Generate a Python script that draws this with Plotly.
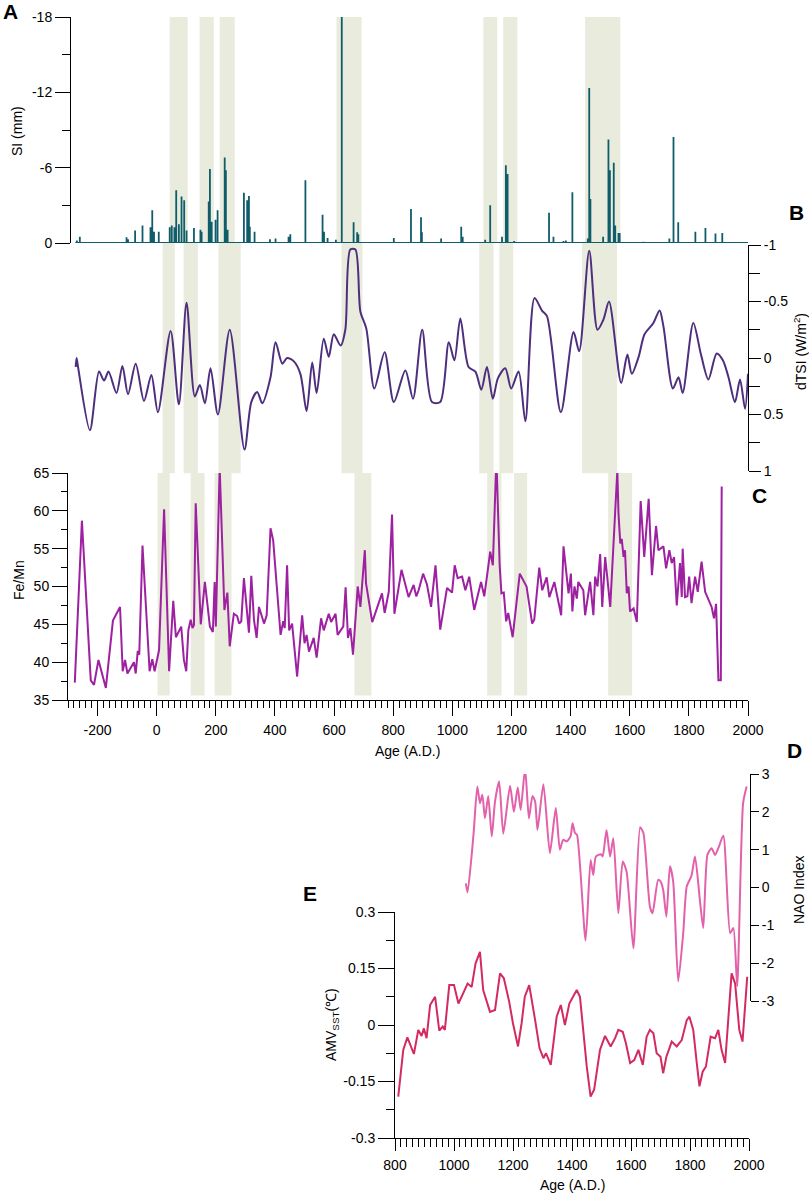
import plotly.graph_objects as go

W, H = 809, 1195
FONT = "Liberation Sans, Arial, sans-serif"

# ---- panel A: SI (mm), event years and depths
si_start, si_end = -275, 2000
si_years = [-270, -260, -102, -97, -73, -48, -21, -15, -9, 7, 44, 51, 60, 66, 75, 84, 93, 101,
            126, 148, 152, 176, 180, 186, 199, 206, 230, 234, 240, 295, 306, 312, 315, 331,
            383, 402, 446, 452, 503, 561, 566, 578, 606, 626, 666, 678, 682, 802, 860, 894,
            897, 962, 1030, 1035, 1111, 1128, 1168, 1181, 1187, 1209, 1327, 1342, 1376, 1384,
            1406, 1458, 1463, 1467, 1510, 1528, 1533, 1546, 1551, 1562, 1566, 1646, 1734,
            1748, 1764, 1822, 1856, 1890, 1913]
si_depth = [-0.2, -0.5, -0.45, -0.3, -1.0, -1.4, -1.25, -2.6, -0.9, -0.9, -1.25, -1.4, -1.25,
            -4.2, -1.5, -3.7, -3.4, -1.0, -1.2, -1.05, -0.9, -3.3, -5.9, -1.7, -1.85, -2.6,
            -6.8, -5.8, -1.05, -4.0, -3.4, -3.75, -1.3, -0.9, -0.3, -0.35, -0.5, -0.7, -5.0,
            -2.25, -0.9, -0.4, -0.25, -18.0, -1.65, -0.85, -0.7, -0.4, -2.7, -2.05, -0.85,
            -0.35, -1.3, -0.5, -0.25, -3.0, -0.5, -6.2, -5.5, -0.15, -2.4, -0.5, -0.15, -0.2,
            -4.05, -0.35, -12.35, -3.5, -0.5, -8.25, -5.8, -6.4, -1.4, -0.8, -0.8, -0.1,
            -0.35, -8.45, -1.65, -0.9, -1.2, -0.75, -0.8]

# ---- panel B: dTSI (W/m2)
tsi_years = [-274, -271, -266, -226, -195, -178, -163, -136, -116, -97, -71, -43, -18, 4, 47,
             75, 101, 129, 146, 163, 182, 207, 247, 297, 320, 340, 357, 385, 402, 425, 441,
             464, 486, 507, 526, 541, 565, 582, 599, 622, 638, 655, 672, 689, 709, 736, 771,
             802, 841, 867, 898, 931, 959, 988, 1007, 1027, 1055, 1078, 1098, 1117, 1137,
             1154, 1179, 1199, 1224, 1247, 1278, 1303, 1320, 1367, 1410, 1429, 1463, 1491,
             1511, 1530, 1571, 1592, 1607, 1630, 1650, 1680, 1701, 1714, 1746, 1765, 1779,
             1815, 1841, 1866, 1894, 1915, 1934, 1956, 1973, 1990, 2000]
tsi_vals = [0.08, 0.0, 0.08, 0.64, 0.12, 0.2, 0.12, 0.31, 0.07, 0.32, 0.05, 0.38, 0.15, 0.48,
            -0.24, 0.41, -0.49, 0.34, 0.24, 0.40, 0.09, 0.50, -0.25, 0.81, 0.39, 0.30, 0.40,
            0.17, -0.14, 0.05, 0.0, 0.03, 0.14, 0.47, 0.04, 0.31, -0.17, -0.01, -0.21, -0.11,
            -0.25, -0.96, -0.96, -0.41, -0.26, 0.27, -0.05, 0.39, 0.11, 0.36, -0.25, 0.39,
            0.39, -0.14, 0.02, -0.35, 0.08, 0.12, 0.28, 0.08, 0.36, 0.18, 0.09, 0.27, 0.12,
            0.56, -0.53, -0.42, -0.37, 0.48, -0.23, -0.06, -0.95, -0.25, -0.34, -0.50, 0.22,
            -0.03, 0.14, -0.01, -0.21, -0.31, -0.42, -0.28, 0.27, 0.17, 0.31, -0.31, -0.03,
            0.19, -0.04, 0.02, 0.17, 0.39, 0.19, 0.45, 0.14]

# ---- panel C: Fe/Mn
femn_years = [-277, -253, -223, -212, -197, -172, -148, -124, -115, -107, -99, -77, -71, -64,
              -59, -48, -24, -15, -7, 8, 25, 42, 56, 65, 83, 92, 100, 107, 115, 121, 126, 132,
              149, 163, 180, 190, 196, 200, 213, 229, 239, 247, 261, 272, 279, 286, 295, 312,
              320, 329, 338, 346, 363, 372, 385, 394, 419, 428, 433, 441, 448, 458, 475, 492,
              500, 507, 515, 531, 541, 556, 565, 582, 590, 605, 612, 631, 639, 647, 655, 664,
              680, 689, 704, 708, 729, 762, 771, 785, 796, 804, 828, 852, 869, 878, 886, 901,
              914, 928, 943, 959, 982, 999, 1008, 1018, 1033, 1044, 1057, 1074, 1097, 1108,
              1120, 1128, 1137, 1149, 1160, 1166, 1174, 1182, 1189, 1204, 1228, 1251, 1270,
              1277, 1294, 1304, 1319, 1328, 1345, 1368, 1376, 1393, 1401, 1406, 1413, 1421,
              1426, 1443, 1449, 1466, 1477, 1483, 1491, 1500, 1507, 1517, 1534, 1558, 1562,
              1568, 1573, 1579, 1584, 1590, 1596, 1601, 1613, 1624, 1637, 1649, 1664, 1675,
              1689, 1697, 1714, 1723, 1734, 1742, 1750, 1759, 1770, 1776, 1779, 1787, 1795,
              1801, 1809, 1821, 1830, 1843, 1855, 1866, 1877, 1885, 1892, 1900, 1908, 1911]
femn_vals = [37.3, 58.7, 37.6, 37.0, 40.3, 36.6, 45.5, 47.3, 38.8, 40.3, 38.5, 40.0, 38.5, 41.5,
             41.0, 55.4, 38.8, 40.4, 38.8, 41.6, 60.2, 38.8, 48.1, 43.3, 44.7, 40.3, 38.8, 44.2,
             45.6, 44.5, 44.9, 61.0, 45.0, 50.6, 44.7, 44.0, 50.6, 44.7, 65.8, 46.9, 49.2, 42.1,
             46.4, 46.1, 45.1, 45.4, 51.1, 43.9, 51.4, 45.6, 43.2, 47.3, 45.1, 46.2, 57.7, 56.1,
             43.6, 45.4, 44.5, 52.8, 44.2, 45.1, 38.1, 46.2, 42.5, 43.6, 41.4, 43.2, 40.6, 45.8,
             44.2, 46.4, 45.3, 46.4, 43.6, 44.7, 49.9, 43.2, 44.5, 41.0, 50.0, 47.3, 54.8, 50.4,
             45.3, 49.1, 46.5, 49.3, 59.5, 46.4, 52.2, 48.6, 50.2, 48.7, 49.5, 51.7, 50.3, 47.3,
             52.8, 44.3, 49.8, 49.2, 52.8, 51.1, 51.3, 49.5, 51.3, 46.9, 50.6, 48.7, 52.2, 54.6,
             52.8, 67.0, 52.8, 49.1, 49.2, 45.4, 46.5, 43.3, 51.7, 50.0, 45.1, 45.6, 52.5, 49.5,
             51.2, 48.6, 50.6, 46.2, 55.3, 49.1, 51.7, 46.7, 50.0, 48.4, 50.6, 49.5, 46.2, 50.6,
             46.2, 51.3, 50.0, 54.3, 47.3, 53.9, 47.3, 65.3, 59.6, 55.7, 56.3, 53.9, 54.8, 49.1,
             50.0, 46.7, 47.1, 45.3, 61.3, 53.9, 61.6, 51.5, 58.0, 54.8, 55.3, 52.4, 54.8, 53.1,
             53.9, 47.5, 53.1, 48.6, 55.0, 48.6, 48.7, 51.3, 47.8, 51.3, 49.3, 53.3, 49.3, 48.2,
             47.3, 45.8, 47.7, 37.6, 37.6, 63.2]

# ---- panel D: NAO index
nao_years = [1040, 1046, 1066, 1079, 1088, 1096, 1105, 1116, 1128, 1139, 1153, 1167, 1190,
             1203, 1216, 1226, 1241, 1254, 1266, 1275, 1283, 1303, 1325, 1345, 1359, 1370,
             1382, 1395, 1402, 1410, 1417, 1446, 1463, 1472, 1481, 1498, 1504, 1517, 1529,
             1540, 1557, 1572, 1585, 1608, 1631, 1642, 1664, 1673, 1692, 1700, 1709, 1720,
             1732, 1743, 1760, 1777, 1789, 1805, 1817, 1834, 1845, 1859, 1873, 1885, 1896,
             1913, 1936, 1947, 1960, 1980, 1992]
nao_vals = [0.11, -0.13, 1.39, 2.67, 2.23, 2.45, 1.83, 2.42, 1.35, 2.27, 2.8, 1.42, 2.69, 2.0,
            2.64, 2.05, 3.15, 1.83, 2.42, 2.27, 1.52, 2.73, 0.91, 2.10, 1.0, 1.26, 1.22, 1.35,
            1.70, 1.44, 1.39, -1.40, 0.73, 0.33, 0.82, 0.88, 0.82, 1.52, 0.82, 1.30, -0.68,
            0.69, 0.42, -1.60, 1.59, 1.44, -0.50, -0.68, 0.2, 0.16, -0.06, -0.77, 0.56, 0.16,
            -2.48, -1.21, 0.03, 0.31, 0.82, -0.37, -1.07, 0.86, 1.04, 0.86, 1.04, 1.37, -1.21,
            -1.07, -2.61, 2.23, 2.67]

# ---- panel E: AMV SST (deg C)
amv_years = [811, 828, 842, 853, 864, 879, 890, 898, 907, 919, 936, 950, 962, 969, 984, 1000,
             1015, 1031, 1046, 1060, 1073, 1088, 1099, 1122, 1139, 1156, 1169, 1187, 1200,
             1217, 1229, 1240, 1255, 1275, 1290, 1303, 1312, 1328, 1348, 1362, 1376, 1391,
             1416, 1427, 1450, 1463, 1475, 1495, 1512, 1531, 1546, 1557, 1572, 1583, 1597,
             1611, 1625, 1640, 1653, 1664, 1676, 1687, 1700, 1709, 1720, 1738, 1755, 1772,
             1789, 1798, 1811, 1823, 1832, 1843, 1854, 1870, 1885, 1896, 1907, 1919, 1936,
             1941, 1953, 1967, 1978, 1994]
amv_vals = [-0.19, -0.066, -0.033, -0.057, -0.077, -0.013, -0.029, -0.009, -0.035, 0.053, 0.075,
            -0.015, -0.004, -0.013, 0.106, 0.106, 0.057, 0.084, 0.110, 0.101, 0.163, 0.194,
            0.093, 0.035, 0.040, 0.137, 0.124, 0.062, 0.004, -0.057, 0.004, 0.075, 0.106,
            0.013, -0.062, -0.088, -0.075, -0.106, 0.022, 0.053, 0.0, 0.057, 0.093, 0.075,
            -0.110, -0.190, -0.172, -0.066, -0.029, -0.057, -0.035, -0.013, -0.018, -0.049,
            -0.101, -0.093, -0.066, -0.106, -0.031, -0.013, -0.022, -0.075, -0.084, -0.128,
            -0.084, -0.044, -0.057, -0.040, 0.013, 0.022, -0.013, -0.101, -0.163, -0.124,
            -0.110, -0.031, -0.035, -0.013, -0.066, -0.101, 0.093, 0.137, 0.110, -0.013,
            -0.044, 0.128]

# shaded intervals (A.D.) for panels A, B, C
bands_a = [(44, 105), (145, 193), (213, 264), (608, 693), (1105, 1152), (1172, 1220), (1449, 1568)]
bands_b = [(20, 61), (91, 139), (209, 284), (625, 696), (1091, 1139), (1159, 1206), (1439, 1557)]
bands_c = [(3, 44), (115, 162), (196, 253), (669, 726), (1118, 1166), (1209, 1253), (1527, 1608)]

# tick labels (hyphen minus as in the original)
age_ticks = [-200, 0, 200, 400, 600, 800, 1000, 1200, 1400, 1600, 1800, 2000]
si_ticks = [-18, -12, -6, 0]
tsi_ticks = [-1, -0.5, 0, 0.5, 1]
nao_ticks = [-3, -2, -1, 0, 1, 2, 3]
amv_ticks = [-0.3, -0.15, 0, 0.15, 0.3]
age2_ticks = [800, 1000, 1200, 1400, 1600, 1800, 2000]

SI_COLOR = "#0f5d6b"
TSI_COLOR = "#4e2f7e"
FEMN_COLOR = "#9d21a0"
NAO_COLOR = "#e360aa"
AMV_COLOR = "#d32a60"
BAND_COLOR = "#e9ebdd"


def fx(px):
    return px / W


def fy(py):
    return 1 - py / H


def labels(vals):
    return [f"{v:g}" for v in vals]


# stick path for the SI events, zero line joining them
si_x, si_y = [si_start], [0]
for yr, d in zip(si_years, si_depth):
    si_x += [yr, yr, yr]
    si_y += [0, d, 0]
si_x.append(si_end)
si_y.append(0)

fig = go.Figure()
fig.add_trace(go.Scatter(x=si_x, y=si_y, xaxis="x", yaxis="y", mode="lines",
                         line=dict(color=SI_COLOR, width=1.8)))
fig.add_trace(go.Scatter(x=tsi_years, y=tsi_vals, xaxis="x", yaxis="y2", mode="lines",
                         line=dict(color=TSI_COLOR, width=2, shape="spline", smoothing=0.8)))
fig.add_trace(go.Scatter(x=femn_years, y=femn_vals, xaxis="x", yaxis="y3", mode="lines",
                         line=dict(color=FEMN_COLOR, width=2)))
fig.add_trace(go.Scatter(x=nao_years, y=nao_vals, xaxis="x2", yaxis="y4", mode="lines",
                         line=dict(color=NAO_COLOR, width=2, shape="spline", smoothing=0.6)))
fig.add_trace(go.Scatter(x=amv_years, y=amv_vals, xaxis="x2", yaxis="y5", mode="lines",
                         line=dict(color=AMV_COLOR, width=2)))

shapes = []
for bands, yref, y0, y1 in [(bands_a, "y domain", 0, 1), (bands_b, "y2 domain", -0.01, 1.01),
                            (bands_c, "y3 domain", 0.02, 1)]:
    for x0, x1 in bands:
        shapes.append(dict(type="rect", xref="x", yref=yref, x0=x0, x1=x1, y0=y0, y1=y1,
                           fillcolor=BAND_COLOR, line_width=0, layer="below"))

axis = dict(showgrid=False, zeroline=False, showline=True, linecolor="black", linewidth=1,
            ticks="outside", tickcolor="black", tickfont=dict(size=14, color="black", family=FONT),
            automargin=False)


def minor(dtick, length):
    return dict(dtick=dtick, tick0=0, ticks="outside", ticklen=length, tickcolor="black")


fig.update_layout(
    width=W, height=H,
    margin=dict(l=0, r=0, t=0, b=0),
    # transparent plot areas so the overlapping D/E panels don't hide each other
    paper_bgcolor="white", plot_bgcolor="rgba(0,0,0,0)",
    showlegend=False,
    font=dict(family=FONT, size=14, color="black"),
    shapes=shapes,
    xaxis=dict(axis, domain=[fx(68), fx(748)], range=[-300, 2000], anchor="y3",
               tickvals=age_ticks, ticktext=labels(age_ticks), ticklen=15,
               minor=minor(20, 7), ticklabelstandoff=2),
    yaxis=dict(axis, domain=[fy(243), fy(17)], range=[0, -18], anchor="free", position=fx(70),
               tickvals=si_ticks, ticktext=labels(si_ticks), ticklen=15, minor=minor(3, 8)),
    yaxis2=dict(axis, domain=[fy(471), fy(245)], range=[1, -1], anchor="free", position=fx(748),
                side="right", tickvals=tsi_ticks, ticktext=labels(tsi_ticks), ticklen=12,
                minor=minor(0.25, 11)),
    yaxis3=dict(axis, domain=[fy(700), fy(473)], range=[35, 65], anchor="x",
                dtick=5, ticklen=15, minor=minor(2.5, 6)),
    xaxis2=dict(axis, domain=[fx(395), fx(749)], range=[800, 2000], anchor="y5",
                tickvals=age2_ticks, ticktext=labels(age2_ticks), ticklen=12,
                minor=minor(20, 8), ticklabelstandoff=2),
    yaxis4=dict(axis, domain=[fy(1001), fy(774)], range=[-3, 3], anchor="free", position=fx(750),
                side="right", tickvals=nao_ticks, ticktext=labels(nao_ticks), ticklen=8),
    yaxis5=dict(axis, domain=[fy(1138), fy(912)], range=[-0.3, 0.3], anchor="x2",
                tickvals=amv_ticks, ticktext=labels(amv_ticks), ticklen=16,
                minor=minor(0.075, 8)),
)

# axis titles and panel letters
titles = [
    ("SI (mm)", 17, 131, -90),
    ("dTSI (W/m<sup>2</sup>)", 800, 352, -90),
    ("Fe/Mn", 19, 580, -90),
    ("NAO Index", 799, 890, -90),
    ("AMV<sub>SST</sub>(℃)", 332, 1025, -90),
    ("Age (A.D.)", 408, 751, 0),
    ("Age (A.D.)", 572, 1185, 0),
]
for text, x, y, ang in titles:
    fig.add_annotation(text=text, x=fx(x), y=fy(y), xref="paper", yref="paper",
                       showarrow=False, textangle=ang, xanchor="center", yanchor="middle",
                       font=dict(size=14, color="black", family=FONT))

letters = [("A", 10, 11), ("B", 796, 212), ("C", 759, 495), ("D", 794, 750), ("E", 310, 893)]
for text, x, y in letters:
    fig.add_annotation(text=f"<b>{text}</b>", x=fx(x), y=fy(y), xref="paper", yref="paper",
                       showarrow=False, xanchor="center", yanchor="middle",
                       font=dict(size=21, color="black", family=FONT))

# drop the default 8px body margin so the figure sits flush in the window
fig.write_html("out.html", config={"displayModeBar": False},
               post_script="document.body.style.margin='0';document.body.style.overflow='hidden';")
